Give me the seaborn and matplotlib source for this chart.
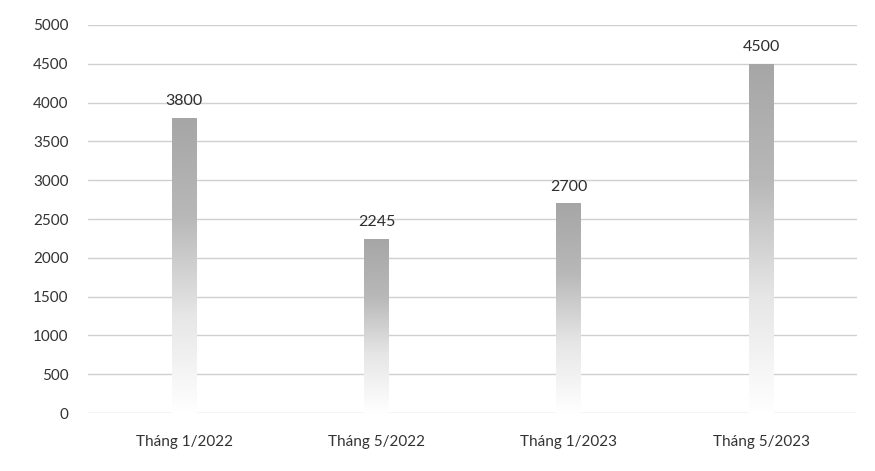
import matplotlib
matplotlib.use("Agg")
import matplotlib.pyplot as plt
import seaborn as sns
import numpy as np
import pandas as pd
from matplotlib.colors import LinearSegmentedColormap

categories = ["Tháng 1/2022", "Tháng 5/2022", "Tháng 1/2023", "Tháng 5/2023"]
values = [3800, 2245, 2700, 4500]
yticks = [0, 500, 1000, 1500, 2000, 2500, 3000, 3500, 4000, 4500, 5000]

sns.set_theme(style="white")
plt.rcParams['font.family'] = ['Lato', 'DejaVu Sans']

df = pd.DataFrame({"cat": categories, "val": values})

fig = plt.figure(figsize=(8.75, 4.71), dpi=100)
ax = fig.add_axes([0.1006, 0.123, 0.879, 0.824])

sns.barplot(data=df, x="cat", y="val", ax=ax, color="#a8a8a8", width=0.13, zorder=3)

cmap = LinearSegmentedColormap.from_list("g", ["#ffffff", "#e6e6e6", "#b8b8b8", "#a6a6a6"])
grad = np.linspace(0, 1, 256).reshape(-1, 1)
for p in ax.patches:
    x0, y0 = p.get_x(), p.get_y()
    w, h = p.get_width(), p.get_height()
    p.set_facecolor("none")
    p.set_edgecolor("none")
    im = ax.imshow(grad, cmap=cmap, origin="lower", aspect="auto",
                   extent=[x0, x0 + w, y0, y0 + h], zorder=3, interpolation="bilinear")
    im.set_clip_path(p)
    ax.annotate(f"{int(h)}", (x0 + w / 2, y0 + h), xytext=(0, 7), textcoords="offset points",
                ha="center", va="bottom", fontsize=11.5, color="#2e2e2e")

ax.set_xlim(-0.5, 3.5)
ax.set_ylim(0, 5000)
ax.set_yticks(yticks)
ax.set_yticklabels([str(v) for v in yticks], fontsize=11, color="#333333")
ax.tick_params(axis="x", labelsize=11, labelcolor="#333333", pad=16, length=0)
ax.tick_params(axis="y", length=0, pad=14)
ax.yaxis.grid(True, color="#d0d0d0", linewidth=1, zorder=0)
ax.set_axisbelow(True)
for s in ax.spines.values():
    s.set_visible(False)
ax.set_xlabel("")
ax.set_ylabel("")

fig.savefig("out.png", dpi=100, facecolor="white")
